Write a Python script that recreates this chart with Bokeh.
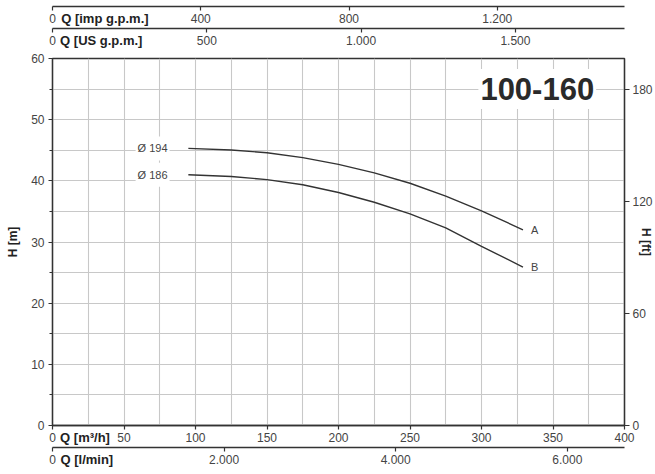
from bokeh.plotting import figure
from bokeh.models import Range1d, LinearAxis, FixedTicker, Label
from bokeh.layouts import column
from bokeh.embed import file_html
from bokeh.resources import INLINE

# ---------------- data ----------------
q_194 = [95, 125, 150, 175, 200, 225, 250, 275, 300, 329]
h_194 = [45.3, 45.05, 44.6, 43.8, 42.7, 41.3, 39.6, 37.5, 35.1, 32.0]
q_186 = [95, 125, 150, 175, 200, 225, 250, 275, 300, 329]
h_186 = [41.0, 40.7, 40.2, 39.35, 38.1, 36.5, 34.6, 32.3, 29.3, 25.9]
curve_names = ["Ø 194", "Ø 186"]
curve_ends = ["A", "B"]
title = "100-160"

q_ticks = [0, 50, 100, 150, 200, 250, 300, 350, 400]
q_grid = [0, 25, 50, 75, 100, 125, 150, 175, 200, 225, 250, 275, 300, 325, 350, 375, 400]
h_ticks = [0, 10, 20, 30, 40, 50, 60]
h_minor = [5, 15, 25, 35, 45, 55]
h_grid = [0, 5, 10, 15, 20, 25, 30, 35, 40, 45, 50, 55, 60]
ft_ticks = [0, 60, 120, 180]
lmin_ticks = [0, 2000, 4000, 6000]
imp_ticks = [0, 400, 800, 1200]
us_ticks = [0, 500, 1000, 1500]
axis_titles = {"imp": "Q [imp g.p.m.]", "us": "Q [US g.p.m.]",
               "m3h": "Q [m³/h]", "lmin": "Q [l/min]", "h": "H [m]", "ft": "H [ft]"}

# unit conversions from m3/h and m
IMP = 3.66615
US = 4.40287
LMIN = 1000.0 / 60.0
FT = 3.28084

Q_MAX = 400
H_MAX = 60

FONT = "Liberation Sans"
DARK = "#333333"
TXT = "#444444"
GRID = "#c8c8c8"
NBSP = "\u00a0"
Q_SIZE = 13          # px, bold Q titles
Q_GAP = 8            # px between frame start and the Q title
# bold Liberation Sans advance widths (em) used to pad the titles
BOLD_EM = {"Q": .778, " ": .278, "[": .333, "]": .333, "i": .278, "m": .889, "p": .611,
           "g": .611, ".": .278, "U": .722, "S": .667, "l": .278, "/": .278, "n": .611,
           "h": .611, "³": .333}

W = 655
LEFT = 52
RIGHT = 30
FRAME_W = W - LEFT - RIGHT
TOP_FRAME_W = W - LEFT
Q_TOP = Q_MAX * TOP_FRAME_W / FRAME_W
TOP_H = 50


def fmt(t):
    return f"{t:,}".replace(",", ".")


def style_axis(ax, ticks):
    ax.ticker = FixedTicker(ticks=ticks)
    ax.major_label_overrides = {t: fmt(t) for t in ticks}
    ax.axis_line_color = DARK
    ax.axis_line_width = 1.3
    ax.major_tick_line_color = DARK
    ax.major_tick_line_width = 1.2
    ax.major_tick_in = 0
    ax.major_tick_out = 4
    ax.minor_tick_line_color = None
    ax.major_label_text_font = FONT
    ax.major_label_text_font_size = "12px"
    ax.major_label_text_color = TXT
    ax.major_label_standoff = 3
    ax.axis_label_text_font = FONT
    ax.axis_label_text_font_style = "bold"
    ax.axis_label_text_font_size = "12px"
    ax.axis_label_text_color = "#222222"


def q_title(ax, text):
    # bold title on the tick-label row; the label is centred on the frame start,
    # so leading no-break spaces shift the visible text right of the "0" label
    text_w = sum(BOLD_EM.get(c, 0.556) for c in text) * Q_SIZE
    n = int(round((2 * Q_GAP + text_w) / (0.278 * Q_SIZE)))
    ax.axis_label_text_font_size = f"{Q_SIZE}px"
    ax.axis_label_standoff = -15
    ax.axis_label_align = "start"
    ax.axis_label = NBSP * n + text


# ---------------- top axes (imp / US gpm) ----------------
top = figure(width=W, height=TOP_H, x_range=Range1d(0, Q_TOP * IMP), y_range=Range1d(0, 1),
             x_axis_location=None, y_axis_location=None, toolbar_location=None,
             output_backend="svg", min_border_left=LEFT, min_border_right=0,
             min_border_top=0, min_border_bottom=0, outline_line_color=None)
top.grid.visible = False
top.extra_x_ranges = {"us": Range1d(0, Q_TOP * US)}
ax_imp = LinearAxis()
style_axis(ax_imp, imp_ticks)
q_title(ax_imp, axis_titles["imp"])
top.add_layout(ax_imp, "below")
ax_us = LinearAxis(x_range_name="us")
style_axis(ax_us, us_ticks)
q_title(ax_us, axis_titles["us"])
top.add_layout(ax_us, "below")

# ---------------- main chart ----------------
MAIN_H = 474 - TOP_H
p = figure(width=W, height=MAIN_H, x_range=Range1d(0, Q_MAX), y_range=Range1d(0, H_MAX),
           toolbar_location=None, output_backend="svg",
           min_border_left=LEFT, min_border_right=RIGHT, min_border_top=58 - TOP_H,
           min_border_bottom=MAIN_H - (58 - TOP_H) - 367,
           outline_line_color=DARK, outline_line_width=1.3)
p.extra_x_ranges = {"lmin": Range1d(0, Q_MAX * LMIN)}
p.extra_y_ranges = {"ft": Range1d(0, H_MAX * FT)}

p.xgrid.ticker = FixedTicker(ticks=q_grid)
p.ygrid.ticker = FixedTicker(ticks=h_grid)
p.grid.grid_line_color = GRID
p.grid.grid_line_width = 1.1

ax_q = p.xaxis[0]
style_axis(ax_q, q_ticks)
q_title(ax_q, axis_titles["m3h"])

ax_l = LinearAxis(x_range_name="lmin")
style_axis(ax_l, lmin_ticks)
q_title(ax_l, axis_titles["lmin"])
p.add_layout(ax_l, "below")

ax_h = p.yaxis[0]
style_axis(ax_h, h_ticks)
ax_h.ticker = FixedTicker(ticks=h_ticks, minor_ticks=h_minor)
ax_h.minor_tick_line_color = DARK
ax_h.minor_tick_in = 0
ax_h.minor_tick_out = 3
ax_h.major_label_standoff = 4
ax_h.axis_label = axis_titles["h"]
ax_h.axis_label_standoff = 8

ax_ft = LinearAxis(y_range_name="ft")
style_axis(ax_ft, ft_ticks)
ax_ft.major_tick_out = 5
ax_ft.major_label_standoff = 3
ax_ft.axis_label = axis_titles["ft"]
ax_ft.axis_label_standoff = -17
p.add_layout(ax_ft, "right")

for qs, hs, name, end in [(q_194, h_194, curve_names[0], curve_ends[0]),
                          (q_186, h_186, curve_names[1], curve_ends[1])]:
    p.line(qs, hs, line_color=DARK, line_width=1.4)
    p.add_layout(Label(x=70, y=hs[0], text=name, text_align="center", text_baseline="middle",
                       text_font=FONT, text_font_size="11px", text_color=TXT,
                       background_fill_color="white", padding=(2, 6)))
    p.add_layout(Label(x=qs[-1], y=hs[-1], x_offset=8, text=end, text_align="left",
                       text_baseline="middle", text_font=FONT, text_font_size="11px",
                       text_color=TXT))

p.add_layout(Label(x=339, y=55, text=title, text_align="center", text_baseline="middle",
                   text_font=FONT, text_font_style="bold", text_font_size="31px",
                   text_color="#2a2a2a", background_fill_color="white", padding=(2, 9)))

layout = column(top, p)
open("out.html", "w").write(file_html(layout, INLINE))
